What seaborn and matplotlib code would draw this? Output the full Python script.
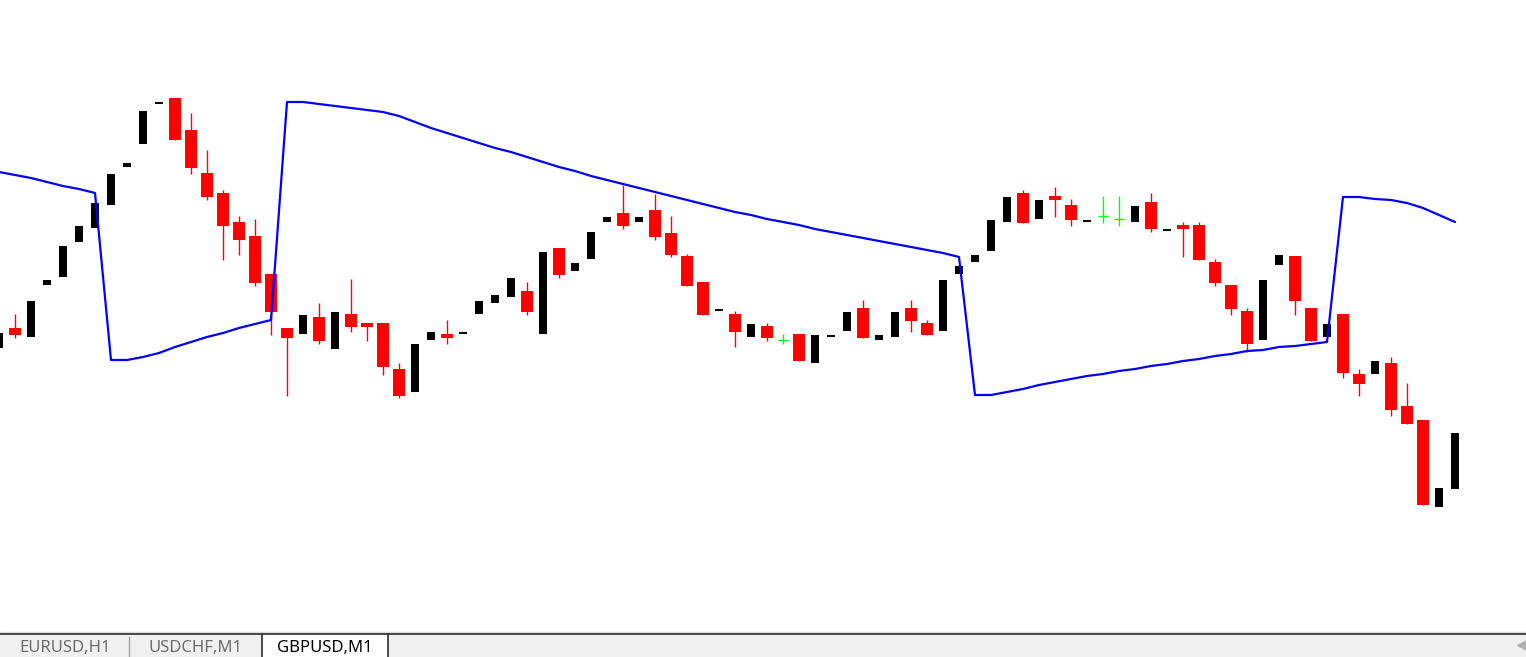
import numpy as np
import pandas as pd
import seaborn as sns
import matplotlib.pyplot as plt
from matplotlib.patches import Rectangle

# GBPUSD M1 candles
opens = [1.20652, 1.20672, 1.20663, 1.20715, 1.20723, 1.20758, 1.20772, 1.20795, 1.20833, 1.20856,
         1.20896, 1.20902, 1.20870, 1.20827, 1.20807, 1.20778, 1.20764, 1.20726, 1.20672, 1.20666,
         1.20683, 1.20651, 1.20686, 1.20677, 1.20677, 1.20631, 1.20608, 1.20660, 1.20666, 1.20666,
         1.20686, 1.20697, 1.20703, 1.20709, 1.20666, 1.20752, 1.20729, 1.20741, 1.20778, 1.20787,
         1.20778, 1.20790, 1.20767, 1.20744, 1.20718, 1.20689, 1.20686, 1.20663, 1.20674, 1.20660,
         1.20666, 1.20637, 1.20663, 1.20669, 1.20692, 1.20660, 1.20663, 1.20692, 1.20677, 1.20669,
         1.20726, 1.20738, 1.20749, 1.20778, 1.20807, 1.20781, 1.20804, 1.20795, 1.20778, 1.20784,
         1.20781, 1.20778, 1.20798, 1.20769, 1.20775, 1.20775, 1.20738, 1.20715, 1.20689, 1.20660,
         1.20735, 1.20744, 1.20692, 1.20663, 1.20686, 1.20626, 1.20626, 1.20637, 1.20594, 1.20580,
         1.20493, 1.20511]
closes = [1.20667, 1.20665, 1.20699, 1.20720, 1.20754, 1.20774, 1.20797, 1.20826, 1.20837, 1.20889,
          1.20898, 1.20860, 1.20832, 1.20803, 1.20774, 1.20760, 1.20717, 1.20688, 1.20662, 1.20685,
          1.20659, 1.20688, 1.20673, 1.20673, 1.20633, 1.20604, 1.20656, 1.20668, 1.20662, 1.20668,
          1.20699, 1.20705, 1.20722, 1.20688, 1.20748, 1.20725, 1.20737, 1.20768, 1.20783, 1.20774,
          1.20783, 1.20763, 1.20745, 1.20714, 1.20685, 1.20691, 1.20668, 1.20676, 1.20662, 1.20660,
          1.20639, 1.20665, 1.20665, 1.20688, 1.20662, 1.20665, 1.20688, 1.20679, 1.20665, 1.20720,
          1.20734, 1.20745, 1.20780, 1.20803, 1.20777, 1.20800, 1.20800, 1.20780, 1.20780, 1.20784,
          1.20781, 1.20794, 1.20771, 1.20771, 1.20771, 1.20740, 1.20717, 1.20691, 1.20656, 1.20720,
          1.20745, 1.20699, 1.20659, 1.20676, 1.20627, 1.20616, 1.20639, 1.20590, 1.20576, 1.20495,
          1.20512, 1.20567]
highs = [1.20667, 1.20686, 1.20699, 1.20720, 1.20754, 1.20774, 1.20797, 1.20826, 1.20837, 1.20889,
         1.20898, 1.20902, 1.20887, 1.20850, 1.20810, 1.20784, 1.20781, 1.20726, 1.20672, 1.20685,
         1.20697, 1.20688, 1.20721, 1.20677, 1.20677, 1.20637, 1.20656, 1.20668, 1.20680, 1.20668,
         1.20699, 1.20705, 1.20722, 1.20718, 1.20748, 1.20752, 1.20737, 1.20768, 1.20783, 1.20815,
         1.20783, 1.20806, 1.20784, 1.20746, 1.20718, 1.20691, 1.20689, 1.20676, 1.20677, 1.20666,
         1.20666, 1.20665, 1.20665, 1.20688, 1.20700, 1.20665, 1.20688, 1.20700, 1.20680, 1.20720,
         1.20734, 1.20745, 1.20780, 1.20803, 1.20810, 1.20800, 1.20813, 1.20801, 1.20780, 1.20804,
         1.20804, 1.20794, 1.20807, 1.20771, 1.20778, 1.20778, 1.20741, 1.20715, 1.20692, 1.20720,
         1.20745, 1.20744, 1.20692, 1.20676, 1.20686, 1.20631, 1.20639, 1.20643, 1.20617, 1.20580,
         1.20512, 1.20567]
lows = [1.20652, 1.20662, 1.20663, 1.20715, 1.20723, 1.20758, 1.20772, 1.20795, 1.20833, 1.20856,
        1.20896, 1.20860, 1.20826, 1.20800, 1.20740, 1.20745, 1.20714, 1.20665, 1.20604, 1.20666,
        1.20656, 1.20651, 1.20668, 1.20659, 1.20625, 1.20602, 1.20608, 1.20660, 1.20656, 1.20666,
        1.20686, 1.20697, 1.20703, 1.20685, 1.20666, 1.20722, 1.20729, 1.20741, 1.20778, 1.20771,
        1.20778, 1.20760, 1.20743, 1.20714, 1.20685, 1.20689, 1.20653, 1.20663, 1.20659, 1.20656,
        1.20639, 1.20637, 1.20663, 1.20669, 1.20662, 1.20660, 1.20663, 1.20668, 1.20665, 1.20669,
        1.20726, 1.20738, 1.20749, 1.20778, 1.20777, 1.20781, 1.20783, 1.20774, 1.20778, 1.20777,
        1.20774, 1.20778, 1.20768, 1.20769, 1.20743, 1.20740, 1.20714, 1.20685, 1.20648, 1.20660,
        1.20735, 1.20685, 1.20659, 1.20663, 1.20622, 1.20604, 1.20626, 1.20584, 1.20576, 1.20495,
        1.20493, 1.20511]
# blue indicator line, one value per bar
indicator = [1.20828, 1.20825, 1.20822, 1.20818, 1.20814, 1.20811, 1.20807, 1.20640, 1.20640, 1.20643,
             1.20647, 1.20653, 1.20658, 1.20663, 1.20667, 1.20672, 1.20676, 1.20680, 1.20898, 1.20898,
             1.20896, 1.20894, 1.20892, 1.20890, 1.20888, 1.20884, 1.20878, 1.20872, 1.20867, 1.20862,
             1.20857, 1.20852, 1.20848, 1.20843, 1.20838, 1.20833, 1.20829, 1.20824, 1.20820, 1.20816,
             1.20812, 1.20808, 1.20804, 1.20800, 1.20796, 1.20792, 1.20788, 1.20785, 1.20781, 1.20778,
             1.20775, 1.20771, 1.20768, 1.20765, 1.20762, 1.20759, 1.20756, 1.20753, 1.20750, 1.20747,
             1.20743, 1.20605, 1.20605, 1.20608, 1.20611, 1.20615, 1.20618, 1.20621, 1.20624, 1.20626,
             1.20629, 1.20631, 1.20634, 1.20636, 1.20639, 1.20641, 1.20644, 1.20646, 1.20649, 1.20650,
             1.20653, 1.20654, 1.20656, 1.20658, 1.20803, 1.20803, 1.20801, 1.20800, 1.20797, 1.20792,
             1.20785, 1.20778]

tab_labels = ["EURUSD,H1", "USDCHF,M1", "GBPUSD,M1"]
active_tab = "GBPUSD,M1"


def main():
    sns.set_theme(style="white")
    plt.rcParams['font.family'] = ['Noto Sans', 'DejaVu Sans']

    df = pd.DataFrame({'open': opens, 'high': highs, 'low': lows,
                       'close': closes, 'ind': indicator})
    df['bar'] = np.arange(len(df))
    up = df[df.close > df.open]
    down = df[df.close < df.open]
    doji = df[df.close == df.open]

    fig = plt.figure(figsize=(15.26, 6.57), dpi=100)
    # chart area: top 631 px of the window
    ax = fig.add_axes([0, 26 / 657, 1, 631 / 657])

    # wicks (bull wicks are white in this template, so only bear/doji show)
    ax.vlines(down.bar, down.low, down.high, color='#ff0000', lw=1, zorder=1)
    ax.vlines(doji.bar, doji.low, doji.high, color='#00ff00', lw=1, zorder=1)
    ax.hlines(doji.close, doji.bar - 0.34, doji.bar + 0.34, color='#00ff00', lw=1, zorder=1)

    # bodies
    ax.bar(down.bar, down.open - down.close, bottom=down.close, width=0.69,
           color='#ff0000', linewidth=0, zorder=2)
    ax.bar(up.bar, up.close - up.open, bottom=up.open, width=0.56,
           color='black', linewidth=0, zorder=2)

    sns.lineplot(data=df, x='bar', y='ind', color='#0000ff', lw=1.6, ax=ax, zorder=3)

    ax.set_xlim(0.0625, 95.4375)
    ax.set_ylim(1.20369, 1.21000)
    ax.axis('off')

    # tab strip at the bottom
    ui = fig.add_axes([0, 0, 1, 26 / 657])
    ui.set_xlim(0, 1526)
    ui.set_ylim(657, 631)
    ui.axis('off')
    ui.add_patch(Rectangle((0, 633), 1526, 24, color='#f0f0f0', lw=0))
    ui.plot([0, 1526], [631.8, 631.8], color='#dcdcdc', lw=1)
    ui.plot([0, 1526], [634.3, 634.3], color='#2b2b2b', lw=1.2)
    ui.add_patch(Rectangle((262, 635), 126, 22, facecolor='white', edgecolor='none'))
    ui.plot([262, 262], [634, 657], color='#2b2b2b', lw=1.2)
    ui.plot([388, 388], [634, 657], color='#2b2b2b', lw=1.2)
    ui.plot([129, 129], [637, 657], color='#a0a0a0', lw=1)
    for lbl, cx in zip(tab_labels, [65, 195, 325]):
        col = 'black' if lbl == active_tab else '#6d6d6d'
        ui.text(cx, 648, lbl, ha='center', va='center', fontsize=12, color=col)
    ui.plot([1522], [645], marker='<', color='#b0b0b0', markersize=7)

    fig.savefig('out.png', dpi=100)


if __name__ == "__main__":
    main()
